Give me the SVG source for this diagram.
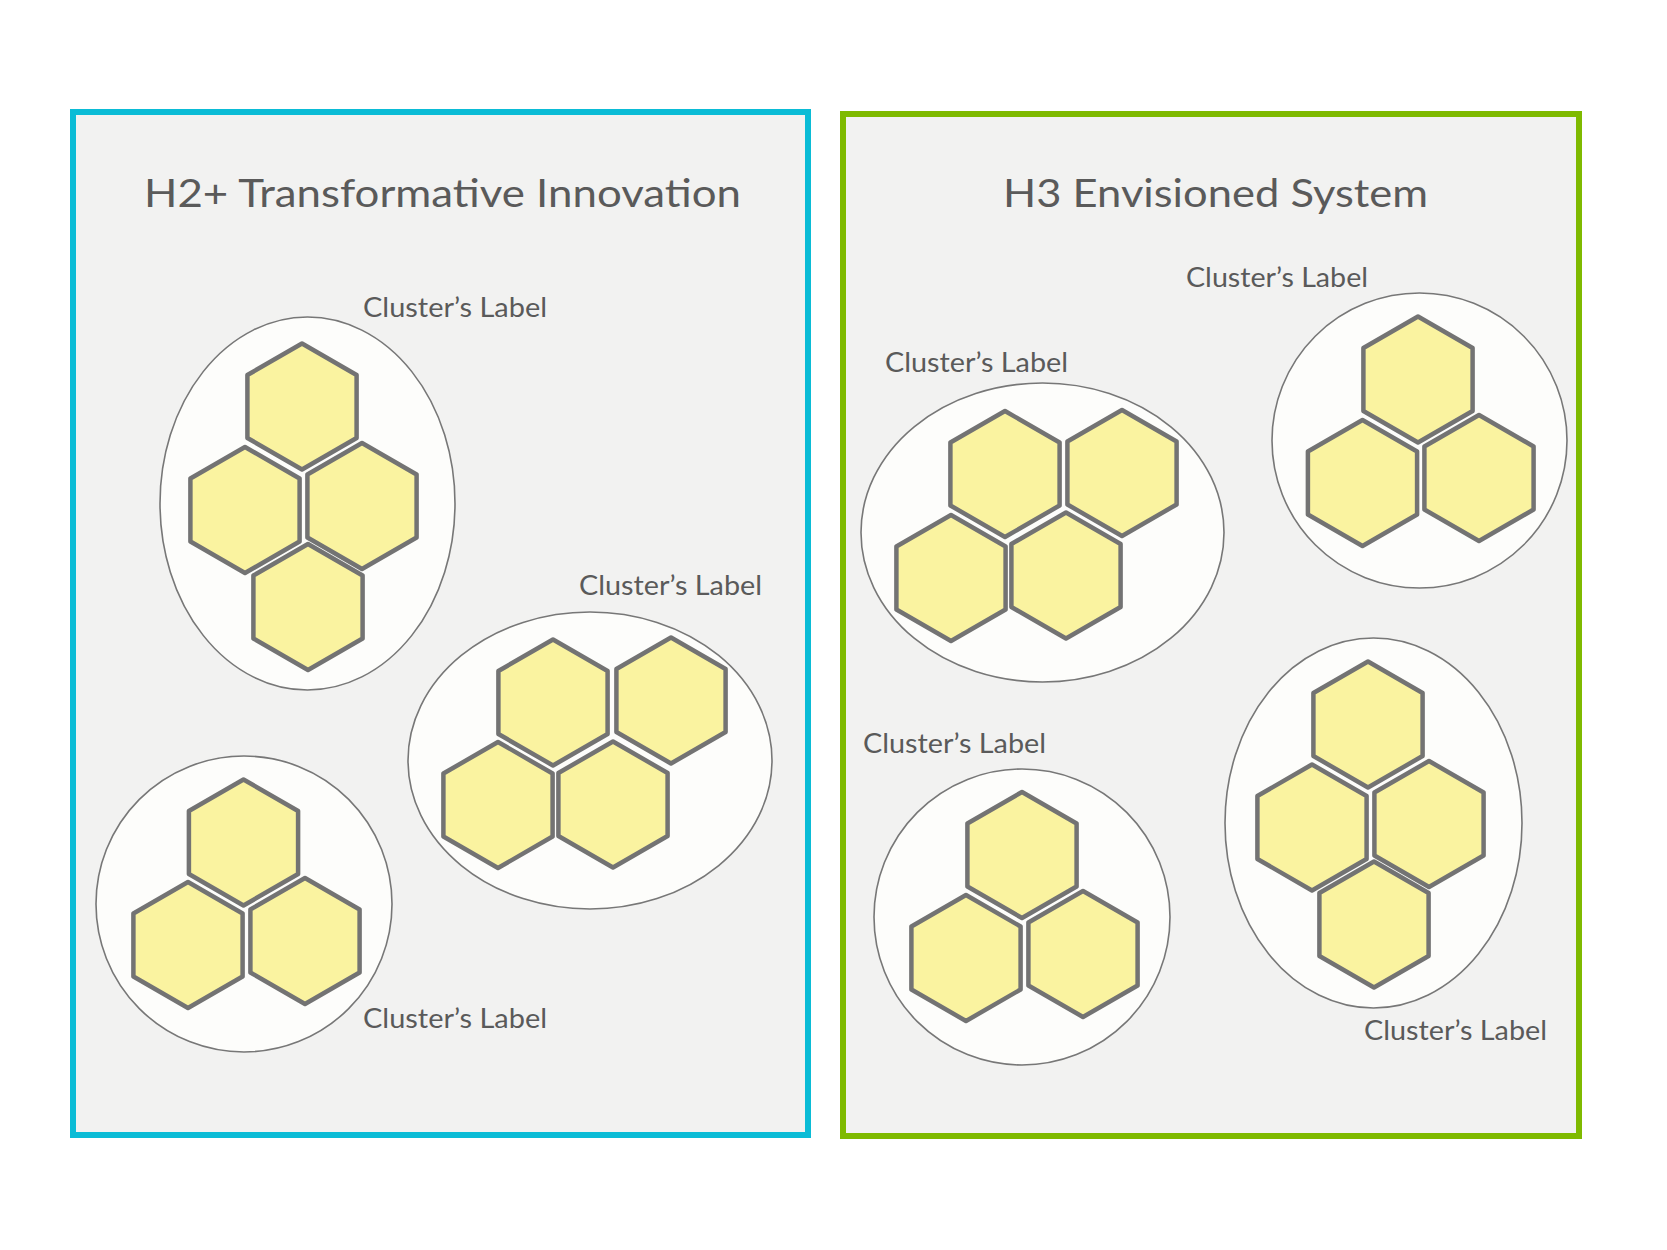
<svg xmlns="http://www.w3.org/2000/svg" xmlns:xlink="http://www.w3.org/1999/xlink" width="1667" height="1250" viewBox="0 0 1667 1250">
<style>
.panel{fill:#f2f2f1;stroke-width:6}
.blue{stroke:#0bbcd6}
.green{stroke:#7fba00}
.cl{fill:#fdfdfb;stroke:#777;stroke-width:1.6}
.hx{fill:#faf3a0;stroke:#737373;stroke-width:4.5;stroke-linejoin:round}
.title{font-family:Lato,"Open Sans","Liberation Sans",sans-serif;font-size:38px;fill:#5a5a5a}
.lbl{font-family:Lato,"Open Sans","Liberation Sans",sans-serif;font-size:27px;fill:#5a5a5a}
</style>
<defs>
<path id="hex" d="M0,-63 L54.6,-31.5 L54.6,31.5 L0,63 L-54.6,31.5 L-54.6,-31.5 Z"/>
</defs>
<rect width="1667" height="1250" fill="#ffffff"/>

<g id="panel-h2">
<rect class="panel blue" x="73" y="112" width="735" height="1023"/>
<text class="title" x="144" y="207" textLength="597" lengthAdjust="spacingAndGlyphs">H2+ Transformative Innovation</text>
</g>
<g id="panel-h3">
<rect class="panel green" x="843" y="114" width="736" height="1022"/>
<text class="title" x="1003" y="207" textLength="425" lengthAdjust="spacingAndGlyphs">H3 Envisioned System</text>
</g>

<g id="cluster-a">
<ellipse class="cl" cx="307.5" cy="503.5" rx="147.5" ry="186.5"/>
<use xlink:href="#hex" class="hx" x="302" y="406.5"/>
<use xlink:href="#hex" class="hx" x="245" y="510"/>
<use xlink:href="#hex" class="hx" x="362" y="506"/>
<use xlink:href="#hex" class="hx" x="308" y="607"/>
<text class="lbl" x="363" y="317" textLength="184" lengthAdjust="spacingAndGlyphs">Cluster’s Label</text>
</g>

<g id="cluster-b">
<ellipse class="cl" cx="590" cy="760.5" rx="182" ry="148.5"/>
<use xlink:href="#hex" class="hx" x="553" y="702.5"/>
<use xlink:href="#hex" class="hx" x="671" y="700.5"/>
<use xlink:href="#hex" class="hx" x="498" y="805"/>
<use xlink:href="#hex" class="hx" x="613" y="804.5"/>
<text class="lbl" x="579" y="595" textLength="183" lengthAdjust="spacingAndGlyphs">Cluster’s Label</text>
</g>

<g id="cluster-c">
<ellipse class="cl" cx="244" cy="904" rx="148" ry="148"/>
<use xlink:href="#hex" class="hx" x="243.5" y="842.5"/>
<use xlink:href="#hex" class="hx" x="188" y="945"/>
<use xlink:href="#hex" class="hx" x="305" y="941"/>
<text class="lbl" x="363" y="1028" textLength="184" lengthAdjust="spacingAndGlyphs">Cluster’s Label</text>
</g>

<g id="cluster-d">
<ellipse class="cl" cx="1042.5" cy="532.5" rx="181.5" ry="149.5"/>
<use xlink:href="#hex" class="hx" x="1005" y="474"/>
<use xlink:href="#hex" class="hx" x="1122" y="473"/>
<use xlink:href="#hex" class="hx" x="951" y="578"/>
<use xlink:href="#hex" class="hx" x="1066" y="575.5"/>
<text class="lbl" x="885" y="372" textLength="183" lengthAdjust="spacingAndGlyphs">Cluster’s Label</text>
</g>

<g id="cluster-e">
<ellipse class="cl" cx="1419.5" cy="440.5" rx="147.5" ry="147.5"/>
<use xlink:href="#hex" class="hx" x="1418" y="379.5"/>
<use xlink:href="#hex" class="hx" x="1362.5" y="483"/>
<use xlink:href="#hex" class="hx" x="1479" y="478"/>
<text class="lbl" x="1186" y="287" textLength="182" lengthAdjust="spacingAndGlyphs">Cluster’s Label</text>
</g>

<g id="cluster-f">
<ellipse class="cl" cx="1022" cy="917" rx="148" ry="148"/>
<use xlink:href="#hex" class="hx" x="1022" y="855"/>
<use xlink:href="#hex" class="hx" x="966" y="958"/>
<use xlink:href="#hex" class="hx" x="1083" y="954"/>
<text class="lbl" x="863" y="753" textLength="183" lengthAdjust="spacingAndGlyphs">Cluster’s Label</text>
</g>

<g id="cluster-g">
<ellipse class="cl" cx="1373.5" cy="823" rx="148.5" ry="185"/>
<use xlink:href="#hex" class="hx" x="1368" y="724.5"/>
<use xlink:href="#hex" class="hx" x="1312" y="827.5"/>
<use xlink:href="#hex" class="hx" x="1429" y="824"/>
<use xlink:href="#hex" class="hx" x="1374" y="924.5"/>
<text class="lbl" x="1364" y="1040" textLength="183" lengthAdjust="spacingAndGlyphs">Cluster’s Label</text>
</g>

<g id="connectors"/>
</svg>
